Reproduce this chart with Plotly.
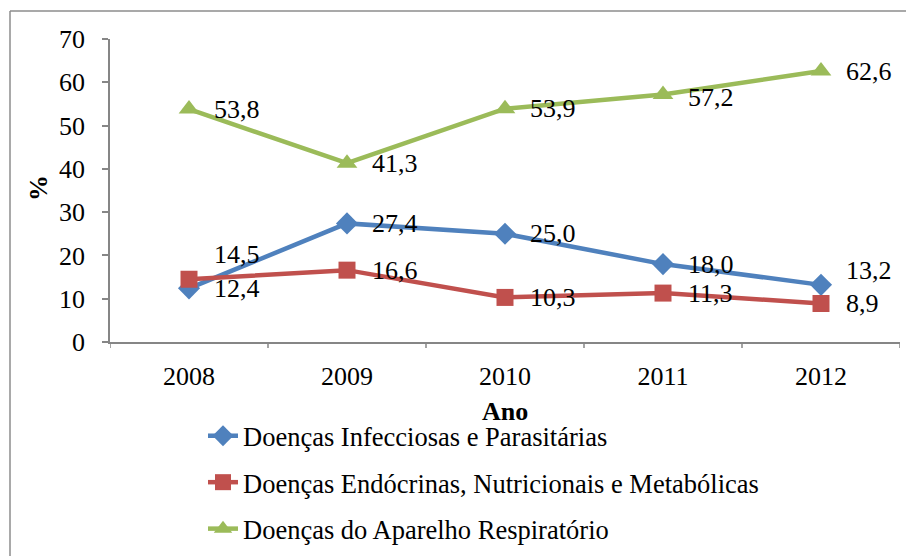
import plotly.graph_objects as go

years = ["2008", "2009", "2010", "2011", "2012"]
infecciosas = [12.4, 27.4, 25.0, 18.0, 13.2]
endocrinas = [14.5, 16.6, 10.3, 11.3, 8.9]
respiratorio = [53.8, 41.3, 53.9, 57.2, 62.6]
series_names = [
    "Doenças Infecciosas e Parasitárias",
    "Doenças Endócrinas, Nutricionais e Metabólicas",
    "Doenças do Aparelho Respiratório",
]
y_ticks = [0, 10, 20, 30, 40, 50, 60, 70]

colors = ["#4F81BD", "#C0504D", "#9BBB59"]
symbols = ["diamond", "square", "triangle-up"]
msizes = [17, 17, 18]
all_series = [infecciosas, endocrinas, respiratorio]
FONT = "Liberation Serif"

fig = go.Figure()
for i, (name, vals) in enumerate(zip(series_names, all_series)):
    fig.add_trace(go.Scatter(
        x=list(range(len(years))), y=vals, name=name, mode="lines+markers",
        line=dict(color=colors[i], width=4.5),
        marker=dict(symbol=symbols[i], size=msizes[i], color=colors[i]),
        legendgroup=f"g{i}",
    ))

# per-label vertical adjustments (px), as placed in the original
yshifts = [
    [0, 0, 0, 0, 14],
    [25, 0, 0, 0, 0],
    [0, 0, 0, -3, 0],
]
annotations = []
for i, vals in enumerate(all_series):
    for j, v in enumerate(vals):
        annotations.append(dict(
            x=j, y=v, xref="x", yref="y",
            text=f"{v:.1f}".replace(".", ","), showarrow=False,
            xanchor="left", yanchor="middle", xshift=23, yshift=yshifts[i][j],
            font=dict(family=FONT, size=26, color="black"),
        ))

# figure sits at (8,8) in the window because of the page's body margin
PW, PH = 790, 303
annotations.append(dict(
    x=(38 - 110) / PW, y=(342 - 188) / PH, xref="paper", yref="paper", text="<b>%</b>",
    xanchor="center", yanchor="middle",
    showarrow=False, textangle=-90, font=dict(family=FONT, size=26, color="black"),
))
annotations.append(dict(
    x=(505 - 110) / PW, y=(342 - 411) / PH, xref="paper", yref="paper", text="<b>Ano</b>",
    xanchor="center", yanchor="middle",
    showarrow=False, font=dict(family=FONT, size=26, color="black"),
))

fig.update_layout(
    template="none",
    width=898, height=600,
    margin=dict(l=102, r=6, t=31, b=600 - 334, pad=0),
    paper_bgcolor="white", plot_bgcolor="white",
    font=dict(family=FONT, size=26, color="black"),
    showlegend=True,
    legend=dict(
        x=(203 - 110) / PW, y=(342 - 412) / PH, xanchor="left", yanchor="top",
        font=dict(family=FONT, size=26.5, color="black"),
        tracegroupgap=9, bgcolor="rgba(0,0,0,0)", borderwidth=0,
    ),
    annotations=annotations,
    shapes=[
        dict(type="line", xref="paper", yref="paper", x0=(10 - 110) / PW, x1=(10 - 110) / PW,
             y0=-0.9, y1=(342 - 11) / PH, line=dict(color="#8C8C8C", width=1.5)),
        dict(type="line", xref="paper", yref="paper", x0=(10 - 110) / PW, x1=1.05,
             y0=(342 - 11) / PH, y1=(342 - 11) / PH, line=dict(color="#8C8C8C", width=1.5)),
    ],
)
fig.update_xaxes(
    range=[-0.5, 4.5], tickvals=list(range(len(years))), ticktext=years,
    showline=True, linecolor="#868686", linewidth=1.5,
    ticks="", showgrid=False, zeroline=False, automargin=False,
    tickfont=dict(family=FONT, size=26, color="black"),
    ticklabelstandoff=10,
)
# category boundary ticks
boundary = [k - 0.5 for k in range(len(years) + 1)]
for b in boundary:
    fig.add_shape(type="line", xref="x", yref="paper", x0=b, x1=b, y0=0, y1=-0.02,
                  line=dict(color="#868686", width=1.5))
fig.update_yaxes(
    range=[0, 70], tickvals=y_ticks,
    showline=True, linecolor="#868686", linewidth=1.5,
    ticks="outside", ticklen=6, tickcolor="#868686", tickwidth=1.5,
    showgrid=False, zeroline=False, automargin=False,
    tickfont=dict(family=FONT, size=26, color="black"),
    ticklabelstandoff=12,
)

fig.write_html("out.html")
